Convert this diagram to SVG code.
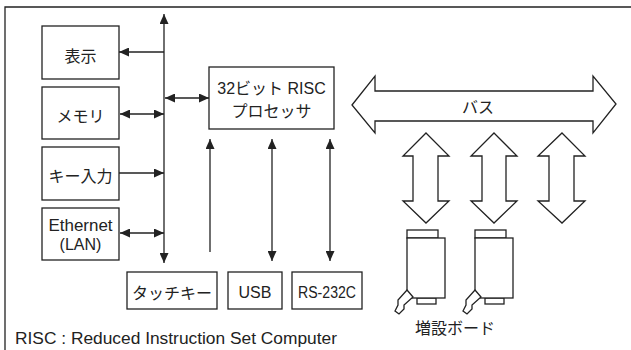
<svg xmlns="http://www.w3.org/2000/svg" width="631" height="350" viewBox="0 0 631 350">
  <style>
    .box { fill: #fff; stroke: #222; stroke-width: 1.3; }
    .ln { fill: none; stroke: #222; stroke-width: 1.3; }
    .fat { fill: #fff; stroke: #222; stroke-width: 1.3; stroke-linejoin: miter; }
    text { font-family: "Liberation Sans", "Noto Sans CJK JP", sans-serif; font-size: 16px; fill: #222; text-anchor: middle; dominant-baseline: central; }
    .jp { font-family: "Noto Sans CJK JP", sans-serif; font-size: 16px; }
    .note { text-anchor: start; dominant-baseline: alphabetic; }
  </style>
  <defs>
    <marker id="ah" viewBox="0 0 10 9" refX="10" refY="4.5" markerWidth="10" markerHeight="9" markerUnits="userSpaceOnUse" orient="auto-start-reverse">
      <path d="M0,0 L10,4.5 L0,9 Z" fill="#222"/>
    </marker>
  </defs>

  <!-- outer frame -->
  <path class="ln" d="M5,350 V7 H631"/>

  <!-- left side peripherals -->
  <g id="display">
    <rect class="box" x="42" y="26" width="77" height="53"/>
    <text class="jp" x="80.5" y="55">表示</text>
  </g>
  <g id="memory">
    <rect class="box" x="42" y="87" width="77" height="52"/>
    <text class="jp" x="80.5" y="115">メモリ</text>
  </g>
  <g id="keyinput">
    <rect class="box" x="42" y="147" width="77" height="53"/>
    <text class="jp" x="80.5" y="175">キー入力</text>
  </g>
  <g id="ethernet">
    <rect class="box" x="42" y="208" width="77" height="52"/>
    <text x="80.5" y="225" textLength="64" lengthAdjust="spacingAndGlyphs">Ethernet</text>
    <text x="80.5" y="244">(LAN)</text>
  </g>

  <!-- processor -->
  <g id="cpu">
    <rect class="box" x="209" y="67" width="125" height="62"/>
    <text x="271.5" y="88">32ビット RISC</text>
    <text class="jp" x="271.5" y="110">プロセッサ</text>
  </g>

  <!-- bottom peripherals -->
  <g id="touchkey">
    <rect class="box" x="127" y="272" width="90" height="37"/>
    <text class="jp" x="172" y="292">タッチキー</text>
  </g>
  <g id="usb">
    <rect class="box" x="228" y="272" width="54" height="37"/>
    <text x="255" y="292">USB</text>
  </g>
  <g id="rs232c">
    <rect class="box" x="292" y="272" width="70" height="37"/>
    <text x="327" y="292" textLength="58" lengthAdjust="spacingAndGlyphs">RS-232C</text>
  </g>

  <!-- system bus -->
  <g id="bus">
    <path class="fat" d="M352,105 L375,76 L375,91 L593,91 L593,76 L616,104 L593,133 L593,121 L375,121 L375,133 Z"/>
    <text class="jp" x="478" y="106">バス</text>
  </g>

  <!-- slot links -->
  <g id="slot1">
    <path class="fat" d="M426,133 L449,156 L438,156 L438,201 L449,201 L426,223 L403,201 L413,201 L413,156 L403,156 Z"/>
  </g>
  <g id="slot2">
    <path class="fat" d="M494,133 L517,156 L506,156 L506,201 L517,201 L494,223 L471,201 L482,201 L482,156 L471,156 Z"/>
  </g>
  <g id="slot3">
    <path class="fat" d="M562,133 L585,156 L574,156 L574,201 L585,201 L562,223 L538,201 L549,201 L549,156 L538,156 Z"/>
  </g>

  <!-- expansion boards -->
  <g id="board1">
    <rect class="box" x="407" y="230" width="31" height="8"/>
    <rect class="box" x="417" y="298" width="19" height="6"/>
    <rect class="box" x="407" y="238" width="38" height="60"/>
    <path class="fat" d="M407,290 L413,297 L404,305 L404,309 L399,314 L395,311 L398,305 L398,300 Z"/>
  </g>
  <g id="board2">
    <rect class="box" x="475" y="230" width="31" height="8"/>
    <rect class="box" x="485" y="298" width="19" height="6"/>
    <rect class="box" x="475" y="238" width="38" height="60"/>
    <path class="fat" d="M475,290 L481,297 L472,305 L472,309 L467,314 L463,311 L466,305 L466,300 Z"/>
  </g>
  <text class="jp" x="455" y="327">増設ボード</text>

  <!-- connectors -->
  <g id="connectors">
    <line class="ln" x1="164" y1="14" x2="164" y2="263" marker-start="url(#ah)" marker-end="url(#ah)"/>
    <line class="ln" x1="164" y1="52" x2="119" y2="52" marker-end="url(#ah)"/>
    <line class="ln" x1="120" y1="114" x2="164" y2="114" marker-start="url(#ah)" marker-end="url(#ah)"/>
    <line class="ln" x1="119" y1="173" x2="164" y2="173" marker-end="url(#ah)"/>
    <line class="ln" x1="120" y1="233" x2="164" y2="233" marker-start="url(#ah)" marker-end="url(#ah)"/>
    <line class="ln" x1="165" y1="98" x2="209" y2="98" marker-start="url(#ah)" marker-end="url(#ah)"/>
    <line class="ln" x1="210" y1="252" x2="210" y2="139" marker-end="url(#ah)"/>
    <line class="ln" x1="272" y1="139" x2="272" y2="261" marker-start="url(#ah)" marker-end="url(#ah)"/>
    <line class="ln" x1="330" y1="139" x2="330" y2="261" marker-start="url(#ah)" marker-end="url(#ah)"/>
  </g>

  <text class="note" x="15" y="344" textLength="322" lengthAdjust="spacingAndGlyphs">RISC : Reduced Instruction Set Computer</text>
</svg>
